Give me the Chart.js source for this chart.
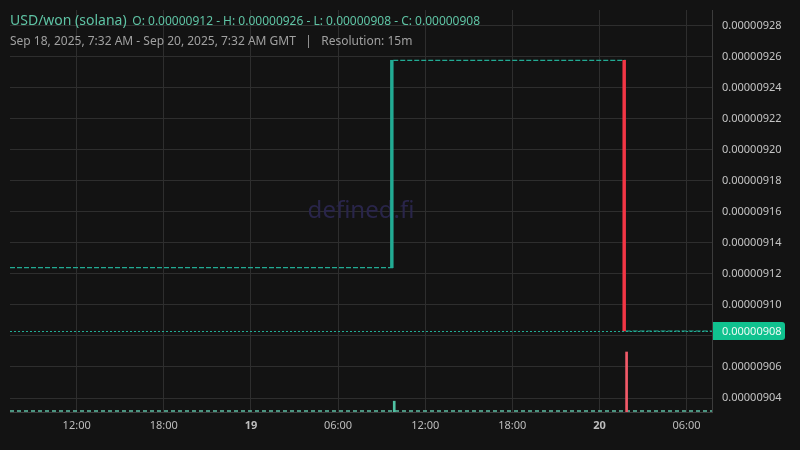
<!DOCTYPE html>
<html>
<head>
<meta charset="utf-8">
<script src="https://cdn.jsdelivr.net/npm/chart.js@4"></script>
<style>
  html, body { margin: 0; padding: 0; background: #131313; }
  #wrap { position: relative; width: 800px; height: 450px; font-family: "Noto Sans", sans-serif; }
  .hdr { position: absolute; left: 10px; white-space: pre; }
  #line1 { top: 11px; color: #5fc4a5; font-size: 14px; line-height: 18px; }
  #line1 span { font-size: 12px; margin-left: 2px; }
  #line2 { top: 33px; color: #a0a0a0; font-size: 12px; line-height: 16px; }
</style>
</head>
<body>
<div id="wrap">
  <canvas id="priceChart"></canvas>
  <div class="hdr" id="line1">USD/won (solana) <span>O: 0.00000912 - H: 0.00000926 - L: 0.00000908 - C: 0.00000908</span></div>
  <div class="hdr" id="line2">Sep 18, 2025, 7:32 AM - Sep 20, 2025, 7:32 AM GMT   |   Resolution: 15m</div>
</div>
<script>
// time in hours since Sep 18, 2025 00:00 GMT
const rangeStart = 7.41;
const rangeEnd = 55.75;

// the two candles that moved the price
const candleTimes = [33.8, 49.8];
const candleOpen = [0.000009124, 0.0000092576];
const candleClose = [0.0000092576, 0.0000090832];

// price held flat (doji candles) between the moves
const flatLevels = [0.000009124, 0.0000092576, 0.0000090832];

// volume of the two candles, plus the tiny volume of all the others
const volumeValues = [1.8, 10.0];
const baseVolume = 0.15;

const yTicks = [0.00000904, 0.00000906, 0.00000908, 0.0000091, 0.00000912, 0.00000914, 0.00000916,
                0.00000918, 0.0000092, 0.00000922, 0.00000924, 0.00000926, 0.00000928];
const xTickHours = [12, 18, 24, 30, 36, 42, 48, 54];
const xTickLabels = ['12:00', '18:00', '19', '06:00', '12:00', '18:00', '20', '06:00'];

const UP = '#22ab94';
const DOWN = '#f23645';
const lastClose = candleClose[candleClose.length - 1];

// flat segments, broken by a gap at each candle
const bounds = [rangeStart, ...candleTimes, rangeEnd];
const flatPoints = [];
flatLevels.forEach((lvl, i) => {
    flatPoints.push({ x: bounds[i], y: lvl }, { x: bounds[i + 1], y: lvl });
    if (i < flatLevels.length - 1) flatPoints.push({ x: bounds[i + 1], y: null });
});

const candleColors = candleTimes.map((t, i) => candleClose[i] >= candleOpen[i] ? UP : DOWN);
const volColors = candleTimes.map((t, i) => candleClose[i] >= candleOpen[i] ? '#4fc2a3' : '#f25a69');

const overlay = {
    id: 'overlay',
    beforeDatasetsDraw(chart) {
        const { ctx, chartArea: a } = chart;
        ctx.save();
        ctx.font = '24px "Noto Sans"';
        ctx.fillStyle = '#29254a';
        ctx.textAlign = 'center';
        ctx.textBaseline = 'middle';
        ctx.fillText('defined.fi', (a.left + a.right) / 2, (a.top + a.bottom) / 2);
        ctx.restore();
    },
    afterDraw(chart) {
        const { ctx, chartArea: a } = chart;
        const y = chart.scales.y.getPixelForValue(lastClose);
        ctx.save();
        // last price line
        ctx.strokeStyle = UP;
        ctx.lineWidth = 1;
        ctx.setLineDash([2, 2]);
        ctx.beginPath();
        ctx.moveTo(a.left, Math.round(y) + 0.5);
        ctx.lineTo(a.right, Math.round(y) + 0.5);
        ctx.stroke();
        ctx.setLineDash([]);
        // last price tag
        ctx.fillStyle = '#10c28f';
        ctx.beginPath();
        ctx.roundRect(a.right + 1, y - 9, 72, 18, [0, 3, 3, 0]);
        ctx.fill();
        ctx.fillStyle = '#eefaf5';
        ctx.font = '11px "Noto Sans"';
        ctx.textBaseline = 'middle';
        ctx.fillText(lastClose.toFixed(8), a.right + 10, y + 0.5);
        ctx.restore();
    }
};

new Chart(document.getElementById('priceChart'), {
    type: 'bar',
    data: {
        datasets: [
            {
                type: 'line',
                data: flatPoints,
                borderColor: UP,
                borderWidth: 1.2,
                borderDash: [5, 2],
                pointRadius: 0,
                spanGaps: false,
                yAxisID: 'y',
                order: 2
            },
            {
                type: 'line',
                data: [{ x: rangeStart, y: baseVolume }, { x: rangeEnd, y: baseVolume }],
                borderColor: '#5fc1a6',
                borderWidth: 1.5,
                borderDash: [4, 3],
                pointRadius: 0,
                yAxisID: 'vol',
                order: 3
            },
            {
                data: candleTimes.map((t, i) => ({ x: t, y: volumeValues[i] })),
                backgroundColor: volColors,
                barThickness: 2,
                yAxisID: 'vol',
                order: 1
            },
            {
                data: candleTimes.map((t, i) => ({ x: t, y: [candleOpen[i], candleClose[i]] })),
                backgroundColor: candleColors,
                barThickness: 2.8,
                yAxisID: 'y',
                order: 0
            }
        ]
    },
    options: {
        responsive: true,
        maintainAspectRatio: false,
        animation: false,
        layout: { padding: { left: 10, top: 10, right: 0, bottom: 0 } },
        plugins: { legend: { display: false }, tooltip: { enabled: false } },
        scales: {
            x: {
                type: 'linear',
                min: rangeStart,
                max: rangeEnd,
                offset: false,
                afterBuildTicks: s => { s.ticks = xTickHours.map(v => ({ value: v })); },
                afterFit: s => { s.height = 38; s.paddingLeft = 0; s.paddingRight = 0; },
                grid: { color: '#2e2e2e', drawTicks: false, offset: false },
                border: { color: '#3c3c3c' },
                ticks: {
                    padding: 7,
                    color: '#bdbdbd',
                    maxRotation: 0,
                    autoSkip: false,
                    font: c => ({ family: 'Noto Sans', size: 11, weight: (c.tick && c.tick.value % 24 === 0) ? 'bold' : 'normal' }),
                    callback: v => xTickLabels[xTickHours.indexOf(v)]
                }
            },
            y: {
                position: 'right',
                min: 0.000009031,
                max: 0.00000929,
                afterBuildTicks: s => { s.ticks = yTicks.map(v => ({ value: v })); },
                afterFit: s => { s.width = 88; s.paddingTop = 0; s.paddingBottom = 0; },
                grid: { color: '#2e2e2e', drawTicks: false },
                border: { color: '#3c3c3c' },
                ticks: {
                    padding: 10,
                    color: '#c4c4c4',
                    font: { family: 'Noto Sans', size: 11 },
                    callback: v => v.toFixed(8)
                }
            },
            vol: {
                display: false,
                min: 0,
                max: 67
            }
        }
    },
    plugins: [overlay]
});
</script>
</body>
</html>
